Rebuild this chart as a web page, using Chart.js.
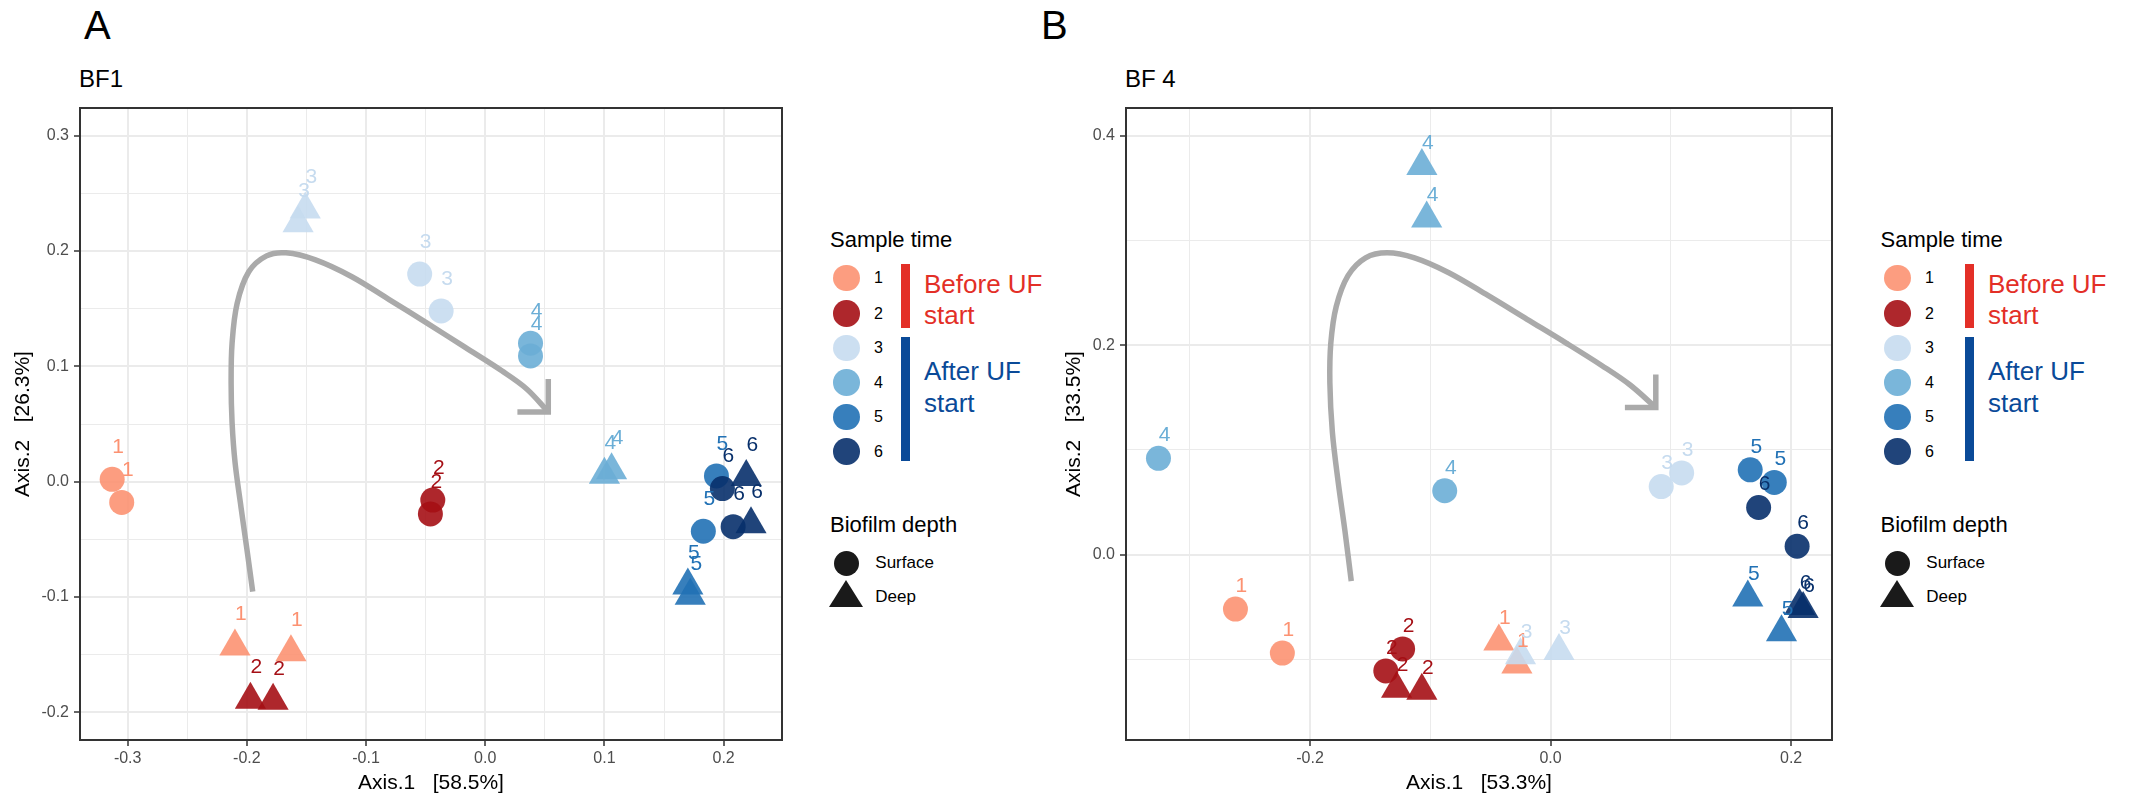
<!DOCTYPE html>
<html>
<head>
<meta charset="utf-8">
<script src="https://cdn.jsdelivr.net/npm/chart.js@4.4.1/dist/chart.umd.min.js"></script>
<style>
  body { margin: 0; background: #fff; width: 2134px; height: 798px; overflow: hidden; position: relative;
         font-family: 'Liberation Sans', Arial, sans-serif; }
  .abs { position: absolute; white-space: pre; }
  .wrap { position: absolute; }
</style>
</head>
<body>
<div class="abs" style="left:84px;top:1px;font-size:40px;line-height:48px;">A</div>
<div class="abs" style="left:1041px;top:1px;font-size:40px;line-height:48px;">B</div>
<div class="abs" style="left:79px;top:64px;font-size:24px;line-height:29px;">BF1</div>
<div class="abs" style="left:1125px;top:64px;font-size:24px;line-height:29px;">BF 4</div>

<div class="wrap" style="left:0px;top:90px;width:800px;height:708px;"><canvas id="chartA" width="800" height="708"></canvas></div>
<div class="wrap" style="left:1046px;top:90px;width:804px;height:708px;"><canvas id="chartB" width="804" height="708"></canvas></div>

<script>
// sample time groups and colours (RColorBrewer Reds / Blues)
const sampleTimes = ['1', '2', '3', '4', '5', '6'];
const timeColors = ['#FC9272', '#A50F15', '#C6DBEF', '#6BAED6', '#2171B5', '#08306B'];
const depths = ['Surface', 'Deep'];

// BF1 (panel A)
const timeA  = [1, 1, 1, 1, 2, 2, 2, 2, 3, 3, 3, 3, 4, 4, 4, 4, 5, 5, 5, 5, 6, 6, 6, 6];
const depthA = ['Surface', 'Surface', 'Deep', 'Deep', 'Surface', 'Surface', 'Deep', 'Deep',
                'Surface', 'Surface', 'Deep', 'Deep', 'Surface', 'Surface', 'Deep', 'Deep',
                'Surface', 'Surface', 'Deep', 'Deep', 'Surface', 'Surface', 'Deep', 'Deep'];
const axis1A = [-0.313, -0.305, -0.210, -0.163, -0.044, -0.046, -0.197, -0.178,
                -0.055, -0.037, -0.151, -0.157, 0.038, 0.038, 0.100, 0.106,
                0.194, 0.183, 0.170, 0.172, 0.199, 0.208, 0.219, 0.223];
const axis2A = [0.002, -0.018, -0.143, -0.148, -0.016, -0.028, -0.189, -0.190,
                0.180, 0.148, 0.236, 0.224, 0.120, 0.109, 0.006, 0.010,
                0.005, -0.043, -0.090, -0.099, -0.006, -0.039, 0.004, -0.037];

// BF 4 (panel B)
const timeB  = timeA;
const depthB = depthA;
const axis1B = [-0.262, -0.223, -0.043, -0.028, -0.123, -0.137, -0.128, -0.107,
                0.092, 0.109, -0.025, 0.007, -0.326, -0.088, -0.107, -0.103,
                0.166, 0.186, 0.164, 0.192, 0.173, 0.205, 0.207, 0.210];
const axis2B = [-0.052, -0.094, -0.083, -0.105, -0.090, -0.111, -0.128, -0.130,
                0.065, 0.078, -0.096, -0.092, 0.092, 0.061, 0.371, 0.321,
                0.081, 0.069, -0.041, -0.074, 0.045, 0.008, -0.049, -0.052];

// tick labels (major) and minor grid lines
const xTicksA = [-0.3, -0.2, -0.1, 0.0, 0.1, 0.2];
const xMinorA = [-0.25, -0.15, -0.05, 0.05, 0.15];
const yTicksA = [-0.2, -0.1, 0.0, 0.1, 0.2, 0.3];
const yMinorA = [-0.15, -0.05, 0.05, 0.15, 0.25];
const xTicksB = [-0.2, 0.0, 0.2];
const xMinorB = [-0.3, -0.1, 0.1];
const yTicksB = [0.0, 0.2, 0.4];
const yMinorB = [-0.1, 0.1, 0.3];

// hand drawn time arrow (annotation), data coords
const arrowA = [[-0.1951, -0.0953], [-0.2000, -0.0583], [-0.2049, -0.0222], [-0.2099, 0.0166],
                [-0.2124, 0.0511], [-0.2132, 0.0855], [-0.2124, 0.1200], [-0.2082, 0.1544],
                [-0.1984, 0.1820], [-0.1835, 0.1958], [-0.1671, 0.1984], [-0.1424, 0.1923],
                [-0.1119, 0.1777], [-0.0806, 0.1579], [-0.0485, 0.1372], [-0.0171, 0.1166],
                [0.0142, 0.0959], [0.0348, 0.0804], [0.0529, 0.0605]];
const arrowHeadA = [[0.027, 0.0605], [0.0529, 0.0605], [0.0529, 0.089]];
const arrowB = [[-0.1657, -0.0253], [-0.1709, 0.0221], [-0.1766, 0.0694], [-0.1814, 0.1168],
                [-0.1835, 0.1641], [-0.1827, 0.2020], [-0.1782, 0.2370], [-0.1684, 0.2664],
                [-0.1538, 0.2834], [-0.1359, 0.2882], [-0.1131, 0.2834], [-0.0846, 0.2692],
                [-0.0521, 0.2475], [-0.0195, 0.2247], [0.0130, 0.2020], [0.0431, 0.1802],
                [0.0659, 0.1622], [0.0875, 0.1405]];
const arrowHeadB = [[0.0618, 0.1405], [0.0875, 0.1405], [0.0875, 0.172]];

Chart.defaults.font.family = "'Liberation Sans', Arial, sans-serif";

function withAlpha(hex, a) {
  const n = parseInt(hex.slice(1), 16);
  return `rgba(${(n >> 16) & 255}, ${(n >> 8) & 255}, ${n & 255}, ${a})`;
}

function buildDatasets(times, depthList, ax1, ax2, arrow, head) {
  const sets = [];
  sampleTimes.forEach((t, ti) => {
    depths.forEach(d => {
      const pts = [];
      times.forEach((tt, i) => {
        if (String(tt) === t && depthList[i] === d) pts.push({ x: ax1[i], y: ax2[i] });
      });
      sets.push({
        data: pts,
        timeLabel: t,
        labelColor: timeColors[ti],
        pointStyle: d === 'Surface' ? 'circle' : 'triangle',
        pointRadius: d === 'Surface' ? 12.5 : 18,
        backgroundColor: withAlpha(timeColors[ti], 0.9),
        borderWidth: 0,
        order: 10 - ti
      });
    });
  });
  sets.push({
    data: arrow.map(p => ({ x: p[0], y: p[1] })),
    showLine: true, tension: 0.35, pointRadius: 0,
    borderColor: '#AAAAAA', borderWidth: 5.5, borderCapStyle: 'butt', order: 50
  });
  sets.push({
    data: head.map(p => ({ x: p[0], y: p[1] })),
    showLine: true, tension: 0, pointRadius: 0,
    borderColor: '#AAAAAA', borderWidth: 5.5, borderCapStyle: 'butt', borderJoinStyle: 'miter', order: 49
  });
  return sets;
}

const pointLabels = {
  id: 'pointLabels',
  afterDatasetsDraw(chart, args, opts) {
    const ctx = chart.ctx;
    ctx.save();
    ctx.font = "21px 'Liberation Sans', Arial, sans-serif";
    ctx.textAlign = 'center';
    ctx.textBaseline = 'middle';
    chart.data.datasets.forEach((ds, i) => {
      if (!ds.timeLabel) return;
      ctx.fillStyle = ds.labelColor;
      chart.getDatasetMeta(i).data.forEach(pt => {
        ctx.fillText(ds.timeLabel, pt.x + opts.dx, pt.y + opts.dy);
      });
    });
    ctx.restore();
  }
};

const panelBorder = {
  id: 'panelBorder',
  afterDraw(chart) {
    const { ctx, chartArea: a } = chart;
    ctx.save();
    ctx.strokeStyle = '#333333';
    ctx.lineWidth = 2;
    ctx.strokeRect(a.left, a.top, a.right - a.left, a.bottom - a.top);
    ctx.restore();
  }
};

function axisOptions(min, max, major, minor, title, isX, titlePad) {
  return {
    type: 'linear', min: min, max: max,
    afterBuildTicks: s => {
      const all = major.map(v => ({ value: v, isMajor: true }))
        .concat(minor.map(v => ({ value: v, isMajor: false })))
        .filter(t => t.value >= min && t.value <= max)
        .sort((a, b) => a.value - b.value);
      s.ticks = all;
    },
    afterFit: s => { if (isX) s.height = 58; else s.width = 80; },
    border: { display: false },
    grid: {
      color: '#EBEBEB',
      lineWidth: c => (c.tick && c.tick.isMajor ? 2 : 1),
      drawTicks: true, tickLength: 6, tickWidth: 1.5,
      tickColor: c => (c.tick && c.tick.isMajor ? '#333333' : 'rgba(0,0,0,0)')
    },
    ticks: {
      autoSkip: false, maxRotation: 0, padding: isX ? 3 : 5,
      color: '#4D4D4D', font: { size: 16 },
      callback: (v, i, t) => (t[i].isMajor ? v.toFixed(1) : '')
    },
    title: {
      display: true, text: title, color: '#000', font: { size: 21 },
      padding: isX ? { top: 0, bottom: 2 } : { top: titlePad, bottom: 0 }
    }
  };
}

function makePanel(id, datasets, sc, dy, padRight, yTitlePad) {
  new Chart(document.getElementById(id), {
    type: 'scatter',
    data: { datasets: datasets },
    options: {
      responsive: false, animation: false, events: [],
      layout: { padding: { top: 13, right: padRight, left: 0, bottom: 0 } },
      plugins: { legend: { display: false }, tooltip: { enabled: false }, pointLabels: { dx: 6, dy: dy } },
      scales: {
        x: axisOptions(sc.xMin, sc.xMax, sc.xMajor, sc.xMinor, sc.xTitle, true, 0),
        y: axisOptions(sc.yMin, sc.yMax, sc.yMajor, sc.yMinor, sc.yTitle, false, yTitlePad)
      }
    },
    plugins: [pointLabels, panelBorder]
  });
}

makePanel('chartA', buildDatasets(timeA, depthA, axis1A, axis2A, arrowA, arrowHeadA), {
  xMin: -0.34, xMax: 0.249, xMajor: xTicksA, xMinor: xMinorA, xTitle: 'Axis.1   [58.5%]',
  yMin: -0.224, yMax: 0.324, yMajor: yTicksA, yMinor: yMinorA, yTitle: 'Axis.2   [26.3%]'
}, -32, 4, 11);

makePanel('chartB', buildDatasets(timeB, depthB, axis1B, axis2B, arrowB, arrowHeadB), {
  xMin: -0.353, xMax: 0.234, xMajor: xTicksB, xMinor: xMinorB, xTitle: 'Axis.1   [53.3%]',
  yMin: -0.177, yMax: 0.4265, yMajor: yTicksB, yMinor: yMinorB, yTitle: 'Axis.2   [33.5%]'
}, -23, 3, 16);

// legends
const keyY = [278, 313.5, 348, 382.5, 417, 451.5];
function addText(text, x, cy, size, color) {
  const d = document.createElement('div');
  d.className = 'abs';
  d.textContent = text;
  d.style.left = x + 'px';
  d.style.top = (cy - size * 0.6) + 'px';
  d.style.fontSize = size + 'px';
  d.style.lineHeight = (size * 1.2) + 'px';
  d.style.color = color || '#000';
  document.body.appendChild(d);
  return d;
}
function addBox(x, y, w, h, bg, radius) {
  const d = document.createElement('div');
  d.className = 'abs';
  Object.assign(d.style, { left: x + 'px', top: y + 'px', width: w + 'px', height: h + 'px', background: bg });
  if (radius) d.style.borderRadius = '50%';
  document.body.appendChild(d);
}
function buildLegend(o) {
  addText('Sample time', o.titleX, 240, 22);
  sampleTimes.forEach((t, i) => {
    addBox(o.keyX - 13.3, keyY[i] - 13.3, 26.6, 26.6, withAlpha(timeColors[i], 0.9), true);
    addText(t, o.numX - 5, keyY[i], 16);
  });
  addBox(o.barX, 264, 8.5, 64, '#E32F27');
  addBox(o.barX, 337, 8.5, 124, '#0A4A98');
  addText('Before UF', o.textX, 285, 26, '#E32F27');
  addText('start', o.textX, 316, 26, '#E32F27');
  addText('After UF', o.textX, 372, 26, '#0A4A98');
  addText('start', o.textX, 404, 26, '#0A4A98');
  addText('Biofilm depth', o.titleX, 525, 22);
  addBox(o.keyX - 12.5, 563 - 12.5, 25, 25, '#1A1A1A', true);
  const svg = document.createElementNS('http://www.w3.org/2000/svg', 'svg');
  svg.setAttribute('width', '34'); svg.setAttribute('height', '28');
  svg.setAttribute('style', `position:absolute;left:${o.keyX - 17}px;top:580px;`);
  svg.innerHTML = '<polygon points="17,0 34,27 0,27" fill="#1A1A1A"/>';
  document.body.appendChild(svg);
  addText('Surface', o.keyX + 29, 563, 17);
  addText('Deep', o.keyX + 29, 597, 17);
}
buildLegend({ titleX: 830, keyX: 846.3, numX: 879, barX: 901, textX: 924 });
buildLegend({ titleX: 1880.5, keyX: 1897.3, numX: 1930, barX: 1965, textX: 1988 });
</script>
</body>
</html>
